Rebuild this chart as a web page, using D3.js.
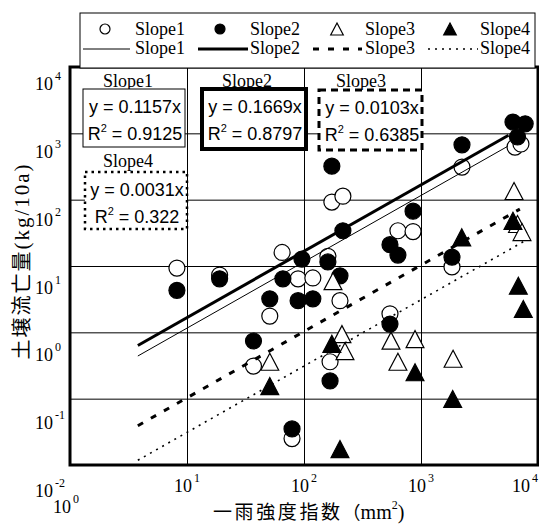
<!DOCTYPE html>
<html lang="ja">
<head>
<meta charset="UTF-8">
<title>土壌流亡量と一雨強度指数</title>
<script src="https://d3js.org/d3.v7.min.js"></script>
<style>
  body { margin: 0; background: #fff; }
  svg { display: block; }
</style>
</head>
<body>
<div id="chart"></div>
<script>
// values: [一雨強度指数 (mm2), 土壌流亡量 (kg/10a)]
const slope1 = [[8.2, 9.3], [19, 7.3], [37, 0.31], [51, 1.76], [65, 16], [89, 6.4], [119, 6.6],
  [160, 14], [203, 3.0], [173, 92], [215, 113], [167, 0.36], [79, 0.025], [543, 1.9],
  [635, 34], [855, 33], [1840, 9.7], [2240, 310], [6360, 620], [7150, 690]];
const slope2 = [[8.2, 4.3], [19, 6.4], [37, 0.74], [51, 3.2], [66, 6.4], [89, 3.0], [119, 3.2],
  [96, 12.7], [160, 11.5], [203, 7.1], [173, 320], [215, 34], [167, 0.185], [79, 0.035],
  [543, 21], [635, 14.6], [855, 67], [543, 1.33], [1840, 13.6], [2240, 670],
  [6110, 1480], [7770, 1390], [6680, 880]];
const slope3 = [[51, 0.36], [177, 5.9], [211, 0.94], [224, 0.52], [554, 0.75], [889, 0.79],
  [635, 0.36], [1880, 0.40], [6240, 135], [6680, 43], [7300, 32.5]];
const slope4 = [[51, 0.155], [173, 0.67], [203, 0.0174], [889, 0.25], [1866, 0.099],
  [2230, 27], [6110, 48], [6790, 5.05], [7490, 2.25]];

const seriesNames = ["Slope1", "Slope2", "Slope3", "Slope4"];
const fitCoef = [0.1157, 0.1669, 0.0103, 0.0031];
const fitCoefText = ["0.1157", "0.1669", "0.0103", "0.0031"];
const fitR2Text = ["0.9125", "0.8797", "0.6385", "0.322"];
const fitRange = [[3.8, 5500], [3.8, 5600], [3.8, 7000], [3.8, 7600]];

const xTicks = [1, 10, 100, 1000, 10000];
const yTicks = [0.01, 0.1, 1, 10, 100, 1000, 10000];

const W = 539, H = 525;
const serif = "'Liberation Serif', 'Times New Roman', serif";
const sans = "'Liberation Sans', Arial, sans-serif";
const cjk = "'Noto Sans CJK JP', sans-serif";

const svg = d3.select("#chart").append("svg")
  .attr("width", W).attr("height", H);

const x = d3.scaleLog().domain([1, 1e4]).range([70, 538]);
const y = d3.scaleLog().domain([1e-2, 1e4]).range([465, 67]);
// tick labels in the original sit a little below their grid lines
const yLabel = d3.scaleLinear().domain([-2, 4]).range([497, 90]);

// grid
svg.append("g")
  .attr("transform", `translate(0,${y.range()[0]})`)
  .call(d3.axisBottom(x).tickValues(xTicks.slice(1, -1)).tickSize(-(y.range()[0] - y.range()[1])).tickFormat(""))
  .call(g => g.select(".domain").remove())
  .call(g => g.selectAll("line").attr("stroke", "#000").attr("stroke-width", 1));
svg.append("g")
  .attr("transform", `translate(${x.range()[0]},0)`)
  .call(d3.axisLeft(y).tickValues(yTicks.slice(1, -1)).tickSize(-(x.range()[1] - x.range()[0])).tickFormat(""))
  .call(g => g.select(".domain").remove())
  .call(g => g.selectAll("line").attr("stroke", "#000").attr("stroke-width", 1));

// y tick labels
yTicks.forEach(v => {
  const k = Math.round(Math.log10(v));
  const t = svg.append("text")
    .attr("x", 35).attr("y", yLabel(k))
    .attr("font-family", serif).attr("font-size", 18)
    .text("10");
  t.append("tspan").attr("dx", 2).attr("dy", -10).attr("font-size", 12).text(k);
});

// x tick labels
xTicks.forEach(v => {
  const k = Math.round(Math.log10(v));
  const low = k === 0;
  const cx = low ? 66 : Math.min(x(v), W - 14);
  const t = svg.append("text")
    .attr("x", cx).attr("y", low ? 513 : 492)
    .attr("text-anchor", "middle")
    .attr("font-family", serif).attr("font-size", 18)
    .text("10");
  t.append("tspan").attr("dx", 2).attr("dy", -10).attr("font-size", 12).text(k);
});

// axis titles
const xt = svg.append("text").attr("x", 213).attr("y", 519);
xt.append("tspan").attr("font-family", cjk).attr("font-size", 19).attr("letter-spacing", 2.6).text("一雨強度指数");
xt.append("tspan").attr("font-family", cjk).attr("font-size", 18).text("（");
xt.append("tspan").attr("font-family", serif).attr("font-size", 20).text("mm");
xt.append("tspan").attr("font-family", serif).attr("font-size", 12).attr("dy", -10).text("2");
xt.append("tspan").attr("font-family", serif).attr("font-size", 20).attr("dy", 10).text(")");

const yt = svg.append("text")
  .attr("transform", "translate(29,261) rotate(-90)")
  .attr("text-anchor", "middle");
yt.append("tspan").attr("font-family", cjk).attr("font-size", 20).attr("letter-spacing", 2).text("土壌流亡量");
yt.append("tspan").attr("font-family", serif).attr("font-size", 21).attr("letter-spacing", 2).text("(kg/10a)");

// markers
const tri = s => `M0,${-s}L${s * 1.05},${s}L${-s * 1.05},${s}Z`;
const markerStyle = [
  { shape: "circle", fill: "#fff" },
  { shape: "circle", fill: "#000" },
  { shape: "triangle", fill: "#fff" },
  { shape: "triangle", fill: "#000" }
];
[slope1, slope2, slope3, slope4].forEach((data, i) => {
  const st = markerStyle[i];
  const g = svg.append("g");
  if (st.shape === "circle") {
    g.selectAll("circle").data(data).join("circle")
      .attr("cx", d => x(d[0])).attr("cy", d => y(d[1])).attr("r", 8)
      .attr("fill", st.fill).attr("stroke", "#000").attr("stroke-width", 1.2);
  } else {
    g.selectAll("path").data(data).join("path")
      .attr("transform", d => `translate(${x(d[0])},${y(d[1])})`)
      .attr("d", tri(8.5))
      .attr("fill", st.fill).attr("stroke", "#000").attr("stroke-width", 1.2);
  }
});

// trend lines y = a x
const lineStyle = [
  { w: 1, dash: null },
  { w: 3, dash: null },
  { w: 3, dash: "6,9" },
  { w: 1.6, dash: "2,5" }
];
const line = d3.line().x(d => x(d[0])).y(d => y(d[1]));
fitCoef.forEach((a, i) => {
  const pts = fitRange[i].map(v => [v, a * v]);
  svg.append("path").attr("d", line(pts))
    .attr("fill", "none").attr("stroke", "#000")
    .attr("stroke-width", lineStyle[i].w)
    .attr("stroke-dasharray", lineStyle[i].dash);
});

// plot frame
svg.append("rect")
  .attr("x", x.range()[0]).attr("y", y.range()[1])
  .attr("width", x.range()[1] - x.range()[0]).attr("height", y.range()[0] - y.range()[1])
  .attr("fill", "none").attr("stroke", "#000").attr("stroke-width", 3);

// equation boxes
const boxes = [
  { x: 83, y: 89, w: 102, h: 58, sw: 1, dash: null, lx: 128, ly: 87, tx: 135 },
  { x: 202, y: 89, w: 104, h: 60, sw: 4, dash: null, lx: 247, ly: 87, tx: 255 },
  { x: 319, y: 90, w: 103, h: 60, sw: 3, dash: "7,5", lx: 361, ly: 87, tx: 372 },
  { x: 85, y: 172, w: 102, h: 57, sw: 2.5, dash: "2.5,4", lx: 128, ly: 167, tx: 137 }
];
boxes.forEach((b, i) => {
  svg.append("text").attr("x", b.lx).attr("y", b.ly)
    .attr("text-anchor", "middle").attr("font-family", serif).attr("font-size", 18)
    .text(seriesNames[i]);
  svg.append("rect").attr("x", b.x).attr("y", b.y).attr("width", b.w).attr("height", b.h)
    .attr("fill", "#fff").attr("stroke", "#000").attr("stroke-width", b.sw)
    .attr("stroke-dasharray", b.dash);
  svg.append("text").attr("x", b.tx).attr("y", b.y + 24)
    .attr("text-anchor", "middle").attr("font-family", sans).attr("font-size", 18)
    .text(`y = ${fitCoefText[i]}x`);
  const r = svg.append("text").attr("x", b.tx).attr("y", b.y + 51)
    .attr("text-anchor", "middle").attr("font-family", sans).attr("font-size", 18)
    .text("R");
  r.append("tspan").attr("dy", -8).attr("font-size", 11).text("2");
  r.append("tspan").attr("dy", 8).text(` = ${fitR2Text[i]}`);
});

// legend
const lg = svg.append("g");
lg.append("rect").attr("x", 80).attr("y", 13).attr("width", 455).attr("height", 55)
  .attr("fill", "#fff").attr("stroke", "#000").attr("stroke-width", 1);
const markX = [105, 220, 337, 450];
const textX = [135, 250, 365, 480];
const lineX = [[83, 130], [198, 248], [313, 362], [428, 478]];
seriesNames.forEach((name, i) => {
  const st = markerStyle[i];
  if (st.shape === "circle") {
    lg.append("circle").attr("cx", markX[i]).attr("cy", 29).attr("r", 5)
      .attr("fill", st.fill).attr("stroke", "#000").attr("stroke-width", 1.2);
  } else {
    lg.append("path").attr("transform", `translate(${markX[i]},29)`).attr("d", tri(6))
      .attr("fill", st.fill).attr("stroke", "#000").attr("stroke-width", 1.2);
  }
  lg.append("text").attr("x", textX[i]).attr("y", 35)
    .attr("font-family", serif).attr("font-size", 18).text(name);
  lg.append("line").attr("x1", lineX[i][0]).attr("x2", lineX[i][1]).attr("y1", 49).attr("y2", 49)
    .attr("stroke", "#000").attr("stroke-width", lineStyle[i].w)
    .attr("stroke-dasharray", lineStyle[i].dash);
  lg.append("text").attr("x", textX[i]).attr("y", 54)
    .attr("font-family", serif).attr("font-size", 18).text(name);
});
</script>
</body>
</html>
